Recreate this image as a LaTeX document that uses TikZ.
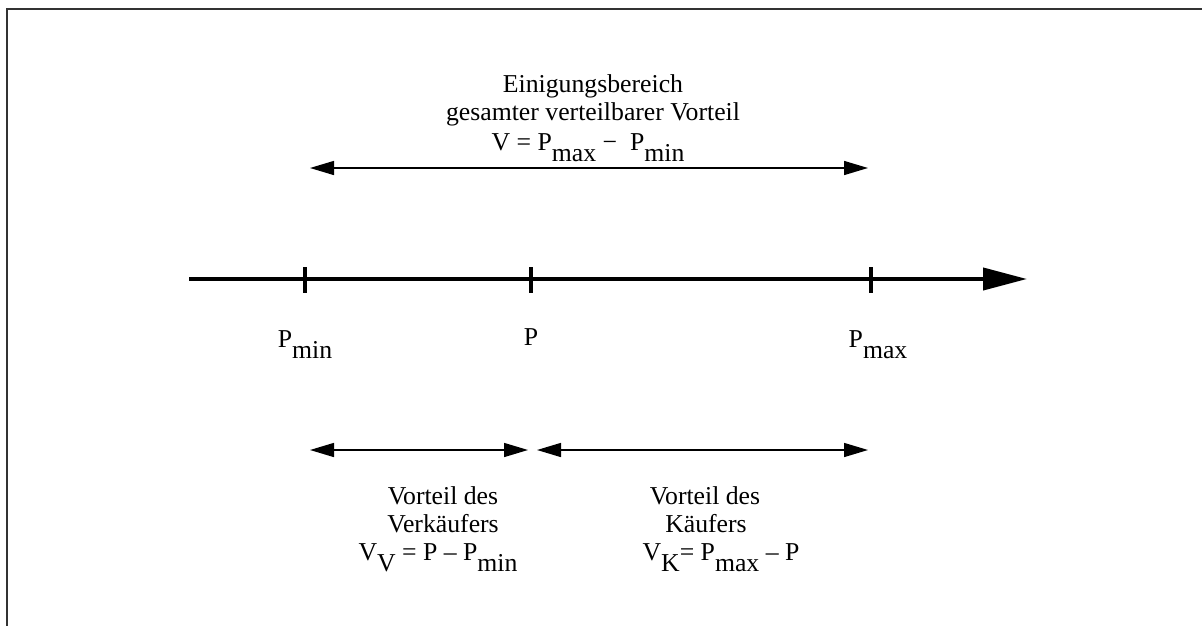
\documentclass[tikz,border=0pt]{standalone}
\usepackage{fontspec}
\setmainfont{Liberation Serif}
\usetikzlibrary{arrows.meta}
\newcommand\lowsub[1]{\raisebox{-8.5pt}{#1}}
\begin{document}
\begin{tikzpicture}[x=0.75pt,y=-0.75pt,
  lbl/.style={inner sep=0pt, font=\fontsize{19.3}{22}\selectfont, anchor=base},
  axisline/.style={line width=3pt, -{Triangle[length=33pt,width=16.5pt]}},
  spanline/.style={line width=1.1pt, {Triangle[length=18pt,width=10.5pt]}-{Triangle[length=18pt,width=10.5pt]}},
  tickline/.style={line width=3pt}]
\useasboundingbox (0,0) rectangle (1202,625);
% frame (partly cut off)
\coordinate (fbl) at (7,627);
\coordinate (ftl) at (7,9);
\coordinate (ftr) at (1204,9);
\draw[line width=2pt, draw=black!80] (fbl) -- (ftl) -- (ftr);
% axis
\coordinate (a0) at (189,279);
\coordinate (a1) at (1027,279);
\draw[axisline] (a0) -- (a1);
\coordinate (t1a) at (305,267); \coordinate (t1b) at (305,293);
\coordinate (t2a) at (531,267); \coordinate (t2b) at (531,293);
\coordinate (t3a) at (871,267); \coordinate (t3b) at (871,293);
\draw[tickline] (t1a) -- (t1b);
\draw[tickline] (t2a) -- (t2b);
\draw[tickline] (t3a) -- (t3b);
% axis labels
\node[lbl] (pmin) at (305,347) {P\lowsub{min}};
\node[lbl] (p) at (531,345) {P};
\node[lbl] (pmax) at (878,347) {P\lowsub{max}};
% top span
\coordinate (s0) at (310,168);
\coordinate (s1) at (868,168);
\draw[spanline] (s0) -- (s1);
\node[lbl] (t1) at (593,92) {Einigungsbereich};
\node[lbl] (t2) at (593,120) {gesamter verteilbarer Vorteil};
\node[lbl] (t3) at (588,150) {V = P\lowsub{max} −\ \ P\lowsub{min}};
% bottom spans
\coordinate (b0) at (310,450);
\coordinate (b1) at (528,450);
\coordinate (b2) at (537,450);
\coordinate (b3) at (868,450);
\draw[spanline] (b0) -- (b1);
\draw[spanline] (b2) -- (b3);
\node[lbl] (l1) at (443,504) {Vorteil des};
\node[lbl] (l2) at (443,532) {Verkäufers};
\node[lbl] (l3) at (438,560) {V\lowsub{V} = P – P\lowsub{min}};
\node[lbl] (r1) at (705,504) {Vorteil des};
\node[lbl] (r2) at (706,532) {Käufers};
\node[lbl] (r3) at (721,560) {V\lowsub{K}= P\lowsub{max} – P};
\end{tikzpicture}
\end{document}
